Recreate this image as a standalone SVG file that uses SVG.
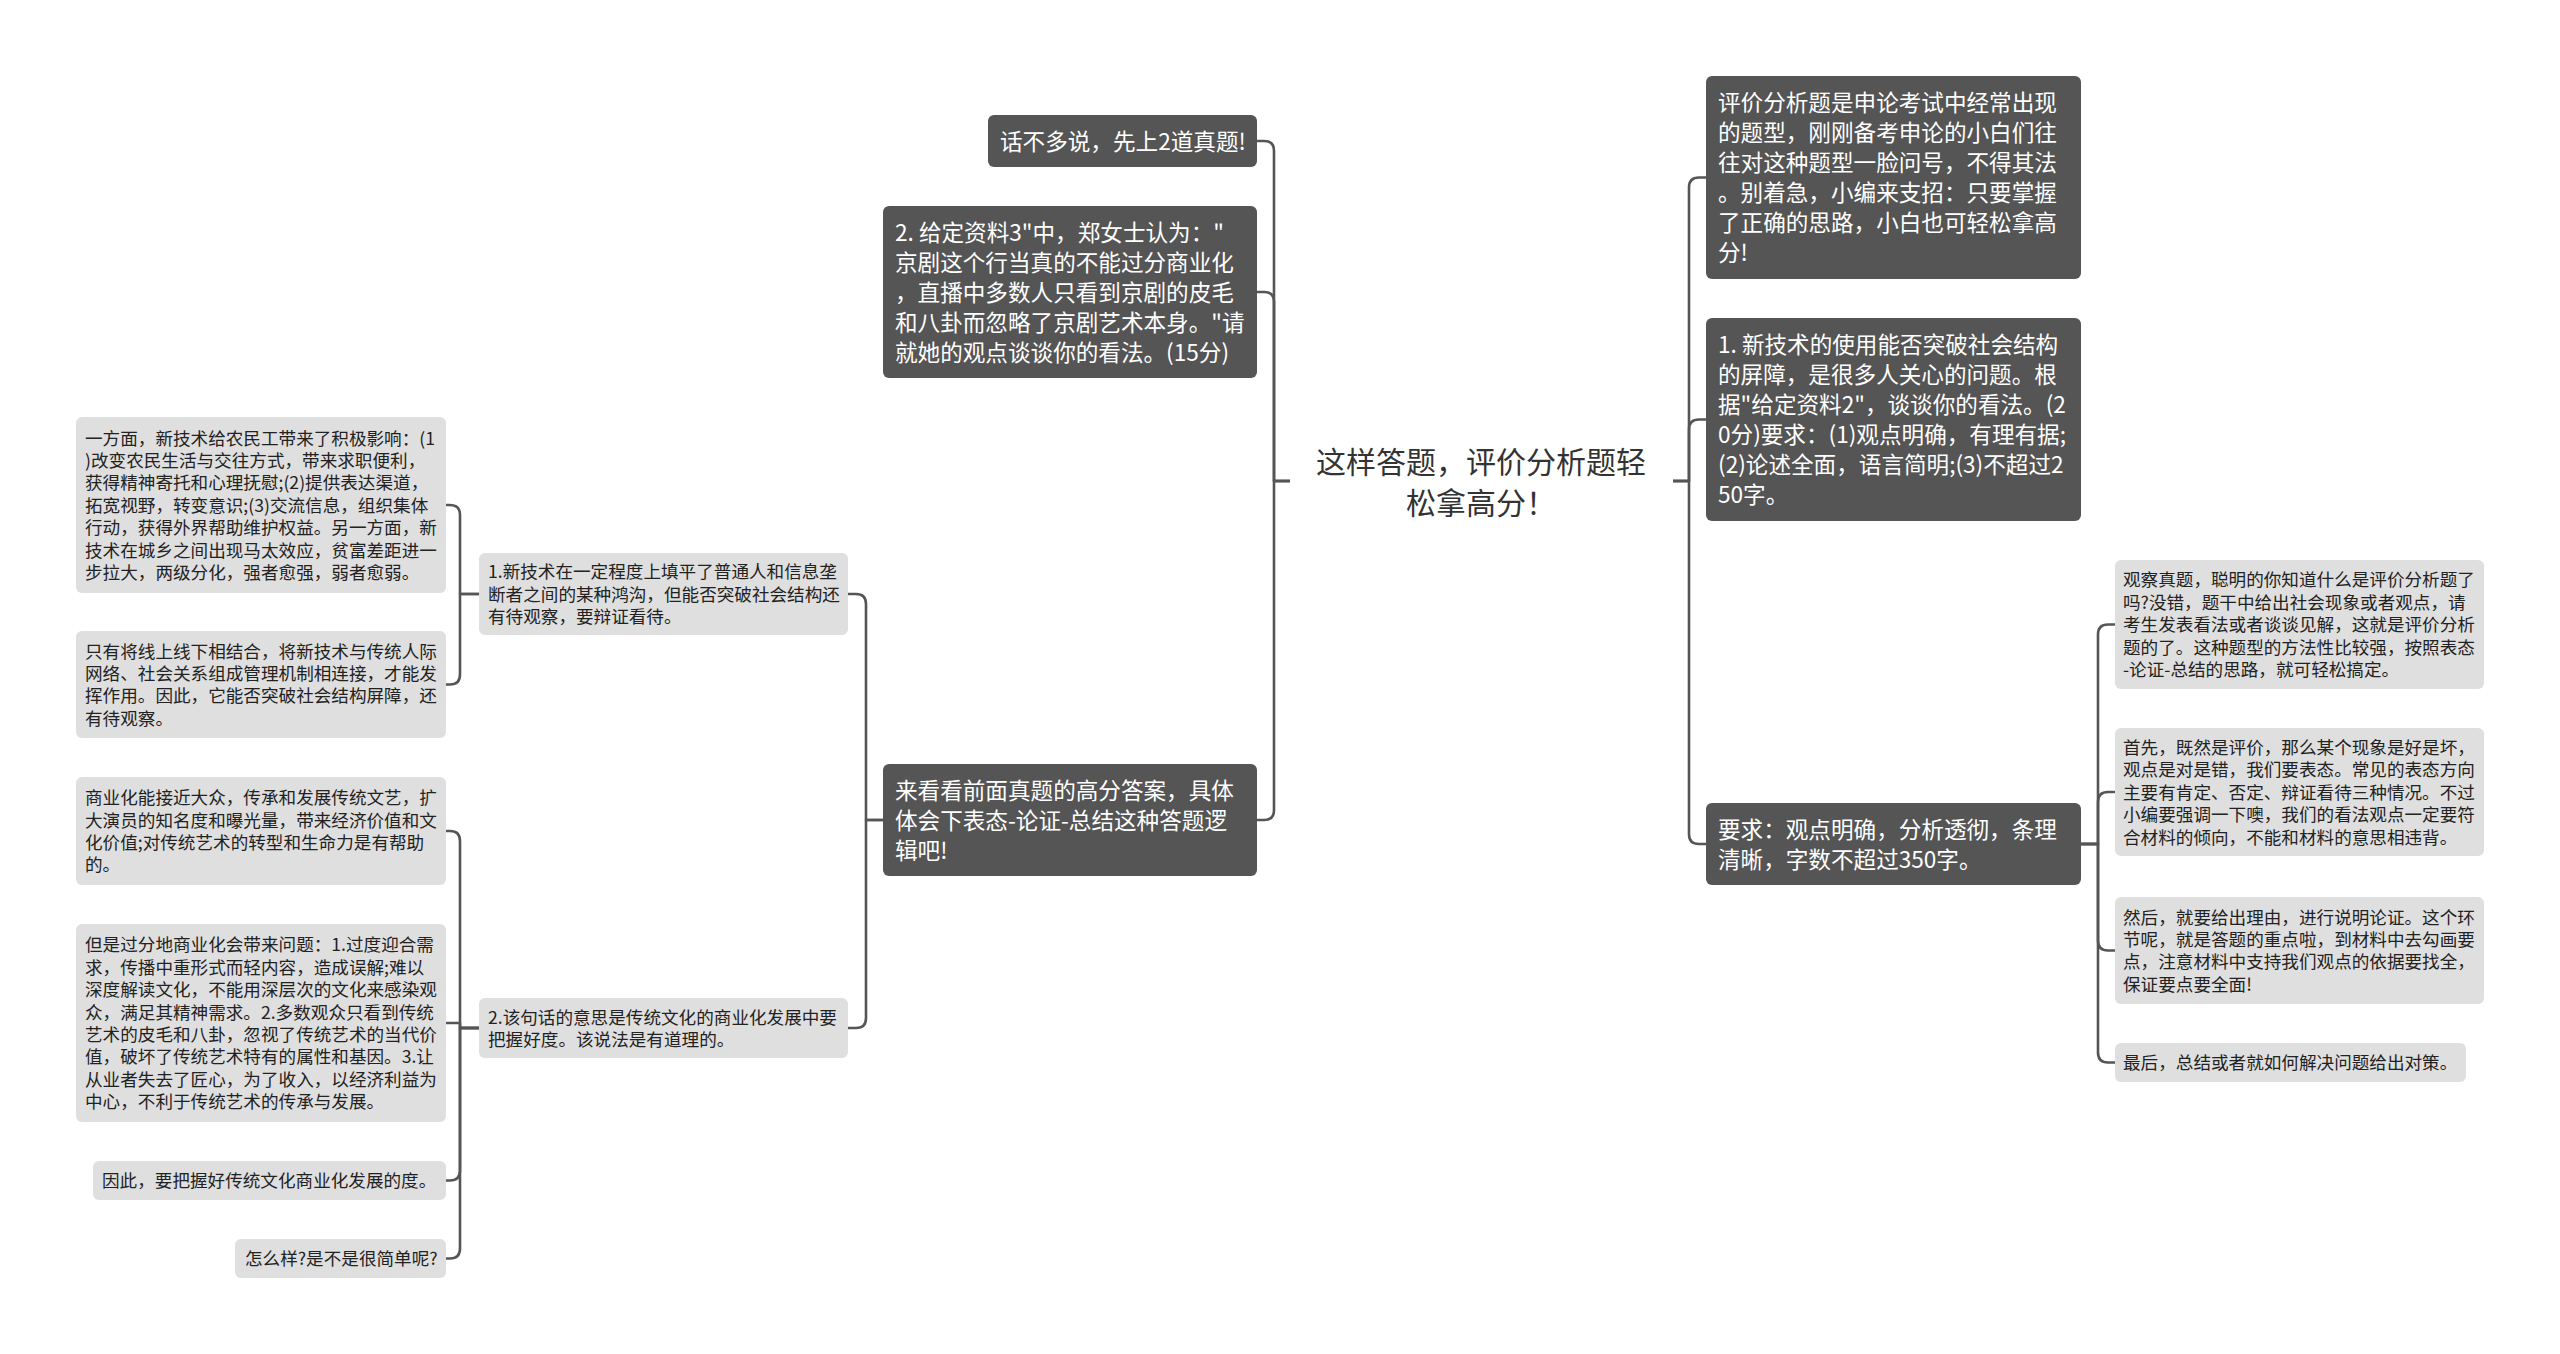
<svg xmlns="http://www.w3.org/2000/svg" width="2560" height="1354" viewBox="0 0 2560 1354">
<style>
.bg{fill:#ffffff}
.dark rect{fill:#555555;stroke:none}
.dark text{fill:#ffffff;font-size:22.6px}
.light rect{fill:#dfdfdf;stroke:none}
.light text{fill:#222222;font-size:17.6px}
text{font-family:"Noto Sans CJK SC","Noto Sans",sans-serif}
.root text{fill:#333333;font-size:30px;text-anchor:middle}
.conn path{fill:none;stroke:#555555;stroke-width:2.6;stroke-linejoin:round}
</style>
<rect class="bg" x="0" y="0" width="2560" height="1354"/>
<g class="conn" id="connectors">
<path d="M1290,481 H1274 V151 Q1274,141 1264,141 H1257"/>
<path d="M1290,481 H1274 V302 Q1274,292 1264,292 H1257"/>
<path d="M1290,481 H1274 V810 Q1274,820 1264,820 H1257"/>
<path d="M1673,481 H1689 V187.5 Q1689,177.5 1699,177.5 H1706"/>
<path d="M1673,481 H1689 V429.5 Q1689,419.5 1699,419.5 H1706"/>
<path d="M1673,481 H1689 V834 Q1689,844 1699,844 H1706"/>
<path d="M2081,844 H2098 V634.5 Q2098,624.5 2108,624.5 H2115"/>
<path d="M2081,844 H2098 V802 Q2098,792 2108,792 H2115"/>
<path d="M2081,844 H2098 V940.5 Q2098,950.5 2108,950.5 H2115"/>
<path d="M2081,844 H2098 V1052.5 Q2098,1062.5 2108,1062.5 H2115"/>
<path d="M883,820 H866 V604 Q866,594 856,594 H848"/>
<path d="M883,820 H866 V1018 Q866,1028 856,1028 H848"/>
<path d="M479,594 H460 V515 Q460,505 450,505 H446"/>
<path d="M479,594 H460 V674.5 Q460,684.5 450,684.5 H446"/>
<path d="M479,1028 H460 V841 Q460,831 450,831 H446"/>
<path d="M479,1028 H460 V1023 H446"/>
<path d="M479,1028 H460 V1170.5 Q460,1180.5 450,1180.5 H446"/>
<path d="M479,1028 H460 V1248.5 Q460,1258.5 450,1258.5 H446"/>
</g>
<g class="root" id="root">
<text x="1481" y="473.4">这样答题，评价分析题轻</text>
<text x="1481" y="514.4">松拿高分！</text>
</g>
<g class="dark" id="n_huabuduo">
<rect x="988" y="115" width="269" height="52" rx="6"/>
<text x="1000" y="149.6">话不多说，先上2道真题!</text>
</g>
<g class="dark" id="n_q2">
<rect x="883" y="206" width="374" height="172" rx="6"/>
<text x="895" y="240.6">2. 给定资料3"中，郑女士认为："</text>
<text x="895" y="270.6">京剧这个行当真的不能过分商业化</text>
<text x="895" y="300.6">，直播中多数人只看到京剧的皮毛</text>
<text x="895" y="330.6">和八卦而忽略了京剧艺术本身。"请</text>
<text x="895" y="360.6">就她的观点谈谈你的看法。(15分)</text>
</g>
<g class="dark" id="n_answer">
<rect x="883" y="764" width="374" height="112" rx="6"/>
<text x="895" y="798.6">来看看前面真题的高分答案，具体</text>
<text x="895" y="828.6">体会下表态-论证-总结这种答题逻</text>
<text x="895" y="858.6">辑吧!</text>
</g>
<g class="dark" id="n_intro">
<rect x="1706" y="76" width="375" height="203" rx="6"/>
<text x="1718" y="111.1">评价分析题是申论考试中经常出现</text>
<text x="1718" y="141.1">的题型，刚刚备考申论的小白们往</text>
<text x="1718" y="171.1">往对这种题型一脸问号，不得其法</text>
<text x="1718" y="201.1">。别着急，小编来支招：只要掌握</text>
<text x="1718" y="231.1">了正确的思路，小白也可轻松拿高</text>
<text x="1718" y="261.1">分!</text>
</g>
<g class="dark" id="n_q1">
<rect x="1706" y="318" width="375" height="203" rx="6"/>
<text x="1718" y="353.1">1. 新技术的使用能否突破社会结构</text>
<text x="1718" y="383.1">的屏障，是很多人关心的问题。根</text>
<text x="1718" y="413.1">据"给定资料2"，谈谈你的看法。(2</text>
<text x="1718" y="443.1">0分)要求：(1)观点明确，有理有据;</text>
<text x="1718" y="473.1">(2)论述全面，语言简明;(3)不超过2</text>
<text x="1718" y="503.1">50字。</text>
</g>
<g class="dark" id="n_req">
<rect x="1706" y="803" width="375" height="82" rx="6"/>
<text x="1718" y="837.6">要求：观点明确，分析透彻，条理</text>
<text x="1718" y="867.6">清晰，字数不超过350字。</text>
</g>
<g class="light" id="n_observe">
<rect x="2115" y="560" width="369" height="129" rx="6"/>
<text x="2123" y="586.4">观察真题，聪明的你知道什么是评价分析题了</text>
<text x="2123" y="608.8">吗?没错，题干中给出社会现象或者观点，请</text>
<text x="2123" y="631.2">考生发表看法或者谈谈见解，这就是评价分析</text>
<text x="2123" y="653.6">题的了。这种题型的方法性比较强，按照表态</text>
<text x="2123" y="676">-论证-总结的思路，就可轻松搞定。</text>
</g>
<g class="light" id="n_first">
<rect x="2115" y="728" width="369" height="128" rx="6"/>
<text x="2123" y="753.9">首先，既然是评价，那么某个现象是好是坏，</text>
<text x="2123" y="776.3">观点是对是错，我们要表态。常见的表态方向</text>
<text x="2123" y="798.7">主要有肯定、否定、辩证看待三种情况。不过</text>
<text x="2123" y="821.1">小编要强调一下噢，我们的看法观点一定要符</text>
<text x="2123" y="843.5">合材料的倾向，不能和材料的意思相违背。</text>
</g>
<g class="light" id="n_then">
<rect x="2115" y="897" width="369" height="107" rx="6"/>
<text x="2123" y="923.6">然后，就要给出理由，进行说明论证。这个环</text>
<text x="2123" y="946">节呢，就是答题的重点啦，到材料中去勾画要</text>
<text x="2123" y="968.4">点，注意材料中支持我们观点的依据要找全，</text>
<text x="2123" y="990.8">保证要点要全面!</text>
</g>
<g class="light" id="n_last">
<rect x="2115" y="1043" width="351" height="39" rx="6"/>
<text x="2123" y="1069.2">最后，总结或者就如何解决问题给出对策。</text>
</g>
<g class="light" id="n_tech">
<rect x="479" y="553" width="369" height="82" rx="6"/>
<text x="488" y="578.3">1.新技术在一定程度上填平了普通人和信息垄</text>
<text x="488" y="600.7">断者之间的某种鸿沟，但能否突破社会结构还</text>
<text x="488" y="623.1">有待观察，要辩证看待。</text>
</g>
<g class="light" id="n_meaning">
<rect x="479" y="998" width="369" height="60" rx="6"/>
<text x="488" y="1023.5">2.该句话的意思是传统文化的商业化发展中要</text>
<text x="488" y="1045.9">把握好度。该说法是有道理的。</text>
</g>
<g class="light" id="n_onehand">
<rect x="76" y="417" width="370" height="176" rx="6"/>
<text x="85" y="444.5">一方面，新技术给农民工带来了积极影响：(1</text>
<text x="85" y="466.9">)改变农民生活与交往方式，带来求职便利，</text>
<text x="85" y="489.3">获得精神寄托和心理抚慰;(2)提供表达渠道，</text>
<text x="85" y="511.7">拓宽视野，转变意识;(3)交流信息，组织集体</text>
<text x="85" y="534.1">行动，获得外界帮助维护权益。另一方面，新</text>
<text x="85" y="556.5">技术在城乡之间出现马太效应，贫富差距进一</text>
<text x="85" y="578.9">步拉大，两级分化，强者愈强，弱者愈弱。</text>
</g>
<g class="light" id="n_only">
<rect x="76" y="631" width="370" height="107" rx="6"/>
<text x="85" y="657.6">只有将线上线下相结合，将新技术与传统人际</text>
<text x="85" y="680">网络、社会关系组成管理机制相连接，才能发</text>
<text x="85" y="702.4">挥作用。因此，它能否突破社会结构屏障，还</text>
<text x="85" y="724.8">有待观察。</text>
</g>
<g class="light" id="n_commerce">
<rect x="76" y="777" width="370" height="108" rx="6"/>
<text x="85" y="804.1">商业化能接近大众，传承和发展传统文艺，扩</text>
<text x="85" y="826.5">大演员的知名度和曝光量，带来经济价值和文</text>
<text x="85" y="848.9">化价值;对传统艺术的转型和生命力是有帮助</text>
<text x="85" y="871.3">的。</text>
</g>
<g class="light" id="n_but">
<rect x="76" y="924" width="370" height="198" rx="6"/>
<text x="85" y="951.3">但是过分地商业化会带来问题：1.过度迎合需</text>
<text x="85" y="973.7">求，传播中重形式而轻内容，造成误解;难以</text>
<text x="85" y="996.1">深度解读文化，不能用深层次的文化来感染观</text>
<text x="85" y="1018.5">众，满足其精神需求。2.多数观众只看到传统</text>
<text x="85" y="1040.9">艺术的皮毛和八卦，忽视了传统艺术的当代价</text>
<text x="85" y="1063.3">值，破坏了传统艺术特有的属性和基因。3.让</text>
<text x="85" y="1085.7">从业者失去了匠心，为了收入，以经济利益为</text>
<text x="85" y="1108.1">中心，不利于传统艺术的传承与发展。</text>
</g>
<g class="light" id="n_therefore">
<rect x="93" y="1161" width="353" height="39" rx="6"/>
<text x="102" y="1187.2">因此，要把握好传统文化商业化发展的度。</text>
</g>
<g class="light" id="n_how">
<rect x="235" y="1239" width="211" height="39" rx="6"/>
<text x="245" y="1265.2">怎么样?是不是很简单呢?</text>
</g>
</svg>
